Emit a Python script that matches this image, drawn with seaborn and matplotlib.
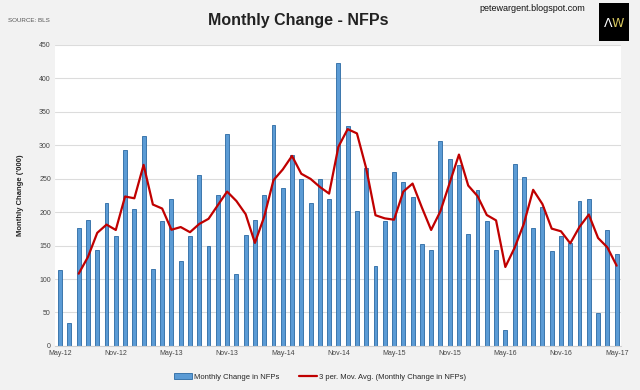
import pandas as pd
import matplotlib.pyplot as plt
import seaborn as sns
from matplotlib.patches import Rectangle

# Monthly change in non-farm payrolls ('000), May-12 .. May-17
months = pd.date_range('2012-05-01', '2017-05-01', freq='MS').strftime('%b-%y').tolist()
nfp = [113, 35, 176, 188, 143, 213, 164, 293, 205, 314, 115, 187,
       219, 127, 164, 256, 150, 225, 317, 108, 166, 188, 225, 330,
       236, 286, 250, 213, 250, 220, 423, 329, 201, 266, 119, 187,
       260, 245, 223, 153, 144, 307, 280, 271, 168, 233, 186, 144,
       24, 272, 252, 176, 208, 142, 164, 154, 216, 219, 49, 174, 137]

df = pd.DataFrame({'month': months, 'nfp': nfp})
df['pos'] = range(len(df))
df['ma3'] = df['nfp'].rolling(3).mean()

sns.set_style('white')
plt.rcParams['font.family'] = ['Liberation Sans', 'DejaVu Sans']

fig = plt.figure(figsize=(6.4, 3.9), dpi=100, facecolor='#f2f2f2')
ax = fig.add_axes([0.086, 0.113, 0.884, 0.772])
ax.set_facecolor('white')

sns.barplot(data=df, x='pos', y='nfp', color='#5b9bd5', width=0.42,
            edgecolor='#2a69a3', linewidth=0.6, saturation=1, ax=ax,
            label='Monthly Change in NFPs')
sns.lineplot(data=df, x='pos', y='ma3', color='#c00000', linewidth=1.6, ax=ax,
             label='3 per. Mov. Avg. (Monthly Change in NFPs)')

ax.set_xlim(-0.55, 60.45)
ax.set_ylim(0, 450)
ax.set_yticks(range(0, 451, 50))
ax.yaxis.grid(True, color='#dcdcdc', linewidth=0.8)
ax.set_axisbelow(True)
ticks = list(range(0, len(df), 6))
ax.set_xticks(ticks)
ax.set_xticklabels([months[i] for i in ticks])
ax.tick_params(axis='both', labelsize=5, colors='#444444', length=0, pad=3)
for s in ['top', 'right', 'left']:
    ax.spines[s].set_visible(False)
ax.spines['bottom'].set_color('#d0d0d0')
ax.set_xlabel('')
ax.set_ylabel("Monthly Change ('000)", fontsize=5.5, fontweight='bold', labelpad=11)

handles, labels = ax.get_legend_handles_labels()
ax.legend_.remove()
bar_h = [h for h, l in zip(handles, labels) if l.startswith('Monthly')]
line_h = [h for h, l in zip(handles, labels) if l.startswith('3 per')]
fig.legend(bar_h + line_h, ['Monthly Change in NFPs', '3 per. Mov. Avg. (Monthly Change in NFPs)'],
           loc='center', bbox_to_anchor=(0.5, 0.033), ncol=2,
           frameon=False, fontsize=5.5, handlelength=2.4, columnspacing=2.5,
           handletextpad=0.3)

fig.text(0.466, 0.948, 'Monthly Change - NFPs', ha='center', va='center',
         fontsize=11.5, fontweight='bold', color='#222222')
fig.text(0.012, 0.948, 'SOURCE: BLS', ha='left', va='center', fontsize=4.5, color='#555555')
fig.text(0.914, 0.978, 'petewargent.blogspot.com', ha='right', va='center',
         fontsize=6.5, color='#111111')

fig.patches.append(Rectangle((0.936, 0.895), 0.047, 0.097, transform=fig.transFigure,
                             facecolor='black', edgecolor='none'))
fig.text(0.951, 0.94, 'Λ', ha='center', va='center', fontsize=9, color='white',
         family='DejaVu Sans')
fig.text(0.966, 0.94, 'W', ha='center', va='center', fontsize=9, color='#d8c860',
         family='DejaVu Sans')

fig.savefig('out.png', dpi=100, facecolor=fig.get_facecolor())
